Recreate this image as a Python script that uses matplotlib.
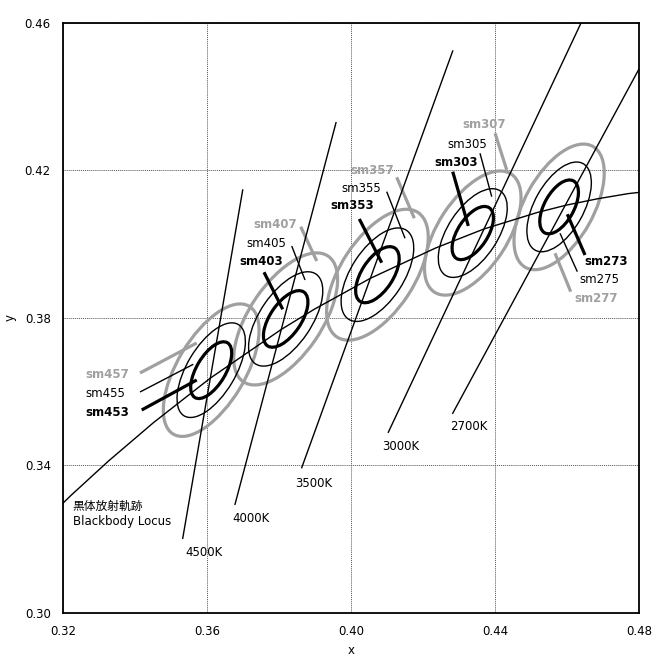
import matplotlib
matplotlib.use("Agg")
import matplotlib.pyplot as plt
from matplotlib.patches import Ellipse

plt.rcParams['font.family'] = ['DejaVu Sans', 'Noto Sans CJK JP']
plt.rcParams['font.size'] = 8.5

# 色温度ごとの中心 (x, y) と 1ステップ楕円のパラメータ
cct_names = ["27", "30", "35", "40", "45"]
cx = [0.4578, 0.4338, 0.4073, 0.3818, 0.3611]
cy = [0.4101, 0.4030, 0.3917, 0.3797, 0.3658]
ell_a = [0.00270, 0.00275, 0.00290, 0.00296, 0.00290]
ell_b = [0.00136, 0.00138, 0.00145, 0.00143, 0.00134]
ell_theta = [60.0, 56.0, 56.0, 55.0, 58.4]
steps = [7, 5, 3]

# 黒体放射軌跡
locus_x = [0.3135, 0.3221, 0.3325, 0.3451, 0.3608, 0.3805, 0.3897, 0.4053,
           0.4236, 0.4369, 0.4518, 0.4599, 0.4685, 0.4770, 0.4862]
locus_y = [0.3236, 0.3318, 0.3411, 0.3516, 0.3636, 0.3768, 0.3823, 0.3907,
           0.3990, 0.4041, 0.4086, 0.4106, 0.4123, 0.4137, 0.4147]

# 等色温度線
iso_labels = ["4500K", "4000K", "3500K", "3000K", "2700K"]
iso_x0 = [0.35319, 0.36772, 0.38626, 0.41033, 0.42823]
iso_y0 = [0.32019, 0.32941, 0.33934, 0.34895, 0.35410]
iso_x1 = [0.36986, 0.39579, 0.42823, 0.46389, 0.48000]
iso_y1 = [0.41469, 0.43295, 0.45240, 0.46000, 0.44752]
iso_tx = [0.35905, 0.37211, 0.38973, 0.41380, 0.43262]
iso_ty = [0.31628, 0.32561, 0.33511, 0.34504, 0.35047]

# sm ラベルと引出線
sm_names = ["sm457", "sm455", "sm453", "sm407", "sm405", "sm403",
            "sm357", "sm355", "sm353", "sm307", "sm305", "sm303",
            "sm277", "sm275", "sm273"]
sm_tx = [0.32603, 0.32603, 0.32603, 0.37281, 0.37078, 0.36892,
         0.39968, 0.39718, 0.39432, 0.43087, 0.42670, 0.42300,
         0.46194, 0.46341, 0.46480]
sm_ty = [0.36449, 0.35934, 0.35418, 0.40538, 0.40004, 0.39523,
         0.41993, 0.41496, 0.41035, 0.43232, 0.42690, 0.42220,
         0.38530, 0.39027, 0.39523]
lead_x1 = [0.34132, 0.34132, 0.34179, 0.38598, 0.38348, 0.37578,
           0.41266, 0.40988, 0.40227, 0.44000, 0.43581, 0.42823,
           0.46102, 0.46286, 0.46500]
lead_y1 = [0.36504, 0.35988, 0.35500, 0.40473, 0.39949, 0.39236,
           0.41813, 0.41423, 0.40682, 0.43007, 0.42465, 0.41965,
           0.38710, 0.39252, 0.39705]
lead_x2 = [0.35708, 0.35613, 0.35708, 0.39043, 0.38718, 0.38098,
           0.41755, 0.41497, 0.40849, 0.44324, 0.43907, 0.43256,
           0.45666, 0.45805, 0.46008]
lead_y2 = [0.37318, 0.36740, 0.36314, 0.39542, 0.39027, 0.38232,
           0.40701, 0.40158, 0.39496, 0.42012, 0.41287, 0.40492,
           0.39751, 0.40294, 0.40810]

gray = "#a0a0a0"
styles = {7: (gray, 2.3), 5: ("black", 1.0), 3: ("black", 2.3)}

fig = plt.figure(figsize=(6.61, 6.62), dpi=100)
ax = fig.add_axes([0.0958, 0.0745, 0.8709, 0.8908])

for i in range(len(cx)):
    for n in steps:
        col, lw = styles[n]
        e = Ellipse((cx[i], cy[i]), 2 * ell_a[i] * n, 2 * ell_b[i] * n,
                    angle=ell_theta[i], fill=False, edgecolor=col, linewidth=lw,
                    zorder=2 if n == 7 else 3)
        ax.add_patch(e)

ax.plot(locus_x, locus_y, color="black", linewidth=1.0, zorder=4)

for i in range(len(iso_labels)):
    ax.plot([iso_x0[i], iso_x1[i]], [iso_y0[i], iso_y1[i]], color="black",
            linewidth=1.0, zorder=4)
    ax.text(iso_tx[i], iso_ty[i], iso_labels[i], ha="center", va="center")

for i in range(len(sm_names)):
    step = int(sm_names[i][-1])
    col, lw = styles[step]
    weight = "normal" if step == 5 else "bold"
    ax.plot([lead_x1[i], lead_x2[i]], [lead_y1[i], lead_y2[i]], color=col,
            linewidth=lw, zorder=3, solid_capstyle="butt")
    ax.text(sm_tx[i], sm_ty[i], sm_names[i], ha="left", va="center",
            color=col, fontweight=weight)

ax.text(0.32261, 0.32876, "黒体放射軌跡", ha="left", va="center")
ax.text(0.32261, 0.32469, "Blackbody Locus", ha="left", va="center")

ax.set_xlim(0.32, 0.48)
ax.set_ylim(0.30, 0.46)
ax.set_xticks([0.32, 0.36, 0.40, 0.44, 0.48])
ax.set_yticks([0.30, 0.34, 0.38, 0.42, 0.46])
ax.set_xticklabels(["0.32", "0.36", "0.40", "0.44", "0.48"])
ax.set_yticklabels(["0.30", "0.34", "0.38", "0.42", "0.46"])
ax.tick_params(length=0, pad=9)
ax.grid(True, color="#555555", linestyle=(0, (1, 1)), linewidth=0.7)
ax.set_axisbelow(True)
for s in ax.spines.values():
    s.set_linewidth(1.3)
ax.set_xlabel("x", labelpad=4)
ax.set_ylabel("y", labelpad=6)

fig.savefig("out.png", dpi=100)
